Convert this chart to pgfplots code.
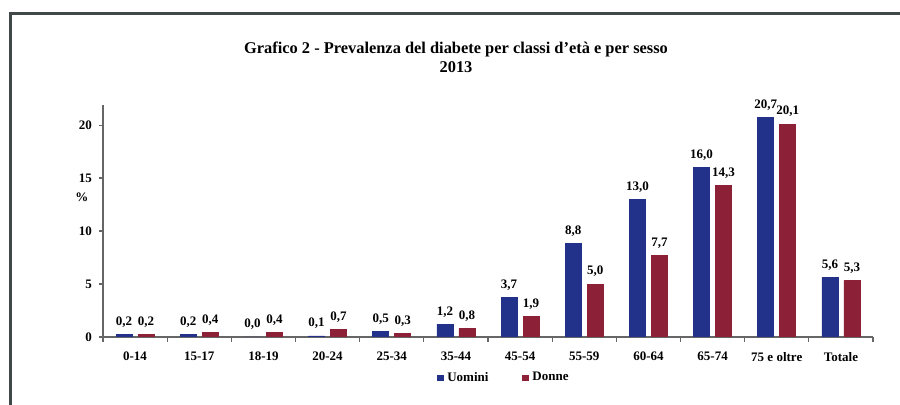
\documentclass[border=0pt]{standalone}
\usepackage{pgfplots}
\pgfplotsset{compat=1.18}
\usepackage{fontspec}
\setmainfont{Liberation Serif}
\definecolor{uomo}{RGB}{34,49,138}
\definecolor{donna}{RGB}{139,32,55}
\definecolor{frame}{RGB}{64,72,72}
\begin{document}
\begin{tikzpicture}[x=0.5pt,y=0.5pt]
\useasboundingbox (0,0) rectangle (900,405);
\draw[frame, line width=1.3pt] (10.5,0) -- (10.5,391.5) -- (900,391.5);
\node[font=\bfseries\fontsize{8.2}{9.6}\selectfont, align=center] at (456,348) {Grafico 2 - Prevalenza del diabete per classi d'età e per sesso\\2013};
\node[font=\bfseries\fontsize{6.5}{7}\selectfont] at (82,208) {\%};
\begin{axis}[
  at={(51.5pt,34pt)}, anchor=south west,
  scale only axis, width=385pt, height=116pt,
  xmin=-0.5, xmax=11.5, ymin=0, ymax=21.9,
  axis x line=bottom, axis y line=left,
  axis line style={-, draw=gray!80!black, line width=0.8pt},
  xtick={0,...,11},
  xticklabels={0-14,15-17,18-19,20-24,25-34,35-44,45-54,55-59,60-64,65-74,75 e oltre,Totale},
  minor xtick={-0.5,0.5,...,11.5},
  major x tick style={draw=none},
  minor x tick style={draw=gray!80!black, line width=0.6pt},
  minor tick length=2.5pt,
  ytick={0,5,10,15,20},
  y tick style={draw=gray!80!black, line width=0.6pt},
  major tick length=2pt,
  tick align=outside,
  xtick pos=bottom, ytick pos=left,
  ticklabel style={font=\bfseries\fontsize{6.5}{7}\selectfont},
  xticklabel style={yshift=-2pt},
  /pgf/number format/assume math mode=true,
  ybar, bar width=8pt,
  enlarge x limits=false,
  nodes near coords,
  every node near coord/.append style={text=black, font=\bfseries\fontsize{6.5}{7}\selectfont, /pgf/number format/.cd, fixed, fixed zerofill, precision=1, use comma},
  legend style={at={(0.522,-0.177)}, anchor=center, draw=none, legend columns=2, font=\bfseries\fontsize{6.5}{7}\selectfont, /tikz/every even column/.append style={column sep=15pt}},
  legend image code/.code={\fill[#1] (0pt,-1.2pt) rectangle (2.6pt,1.4pt);},
]
\addplot+[bar shift=-5.5pt, draw=uomo, fill=uomo] coordinates {(0,0.2) (1,0.2) (2,0.0) (3,0.1) (4,0.5) (5,1.2) (6,3.7) (7,8.8) (8,13.0) (9,16.0) (10,20.7) (11,5.6)};
\addplot+[bar shift=5.5pt, draw=donna, fill=donna] coordinates {(0,0.2) (1,0.4) (2,0.4) (3,0.7) (4,0.3) (5,0.8) (6,1.9) (7,5.0) (8,7.7) (9,14.3) (10,20.1) (11,5.3)};
\legend{Uomini,Donne}
\end{axis}
\end{tikzpicture}
\end{document}
